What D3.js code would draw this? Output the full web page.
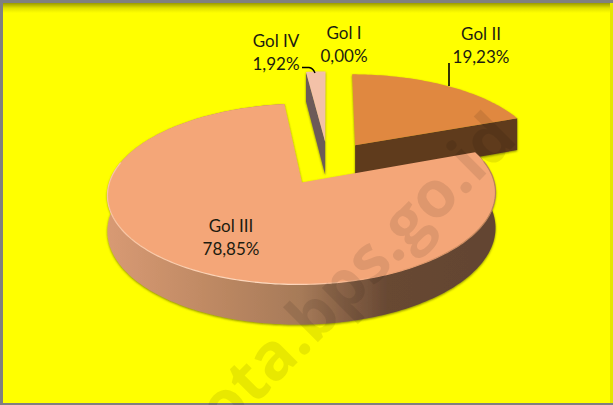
<!DOCTYPE html>
<html lang="en">
<head>
<meta charset="utf-8">
<title>Gol pie</title>
<script src="https://d3js.org/d3.v7.min.js"></script>
<style>
  html, body { margin: 0; padding: 0; background: #fff; }
  svg { display: block; }
  .labels { font-family: Lato, "Open Sans", sans-serif; font-size: 17px; fill: #1c1c10; text-anchor: middle; }
</style>
</head>
<body>
<script>
// data, order follows the pie clockwise from 12 o'clock
const categories = ["Gol I", "Gol II", "Gol III", "Gol IV"];
const shares = [0.00, 19.23, 78.85, 1.92];
const shareLabels = ["0,00%", "19,23%", "78,85%", "1,92%"];

const w = 613;
const h = 405;

// colors
const topColor = d3.scaleOrdinal(categories, ["#f0b080", "#e0883f", "#f4a678", "#f3c1a8"]);
const wallColor = d3.scaleOrdinal(categories, ["#6b4a30", "#5e3a1e", "#7a5038", "#6c5a58"]);

// label positions (center x, baseline of the name line)
const labelPos = { "Gol I": [344, 39], "Gol II": [481, 40], "Gol III": [231, 232], "Gol IV": [276, 47] };

// simple perspective for the tilted disc, fitted on the picture
const ox = 328, oy = 163, S = 187, T = 84, k = 0.125, depth = 34, explode = 0.262;

const svg = d3.select("body").append("svg").attr("width", w).attr("height", h);
const defs = svg.append("defs");

const fade = defs.append("linearGradient").attr("id", "topFade").attr("x1", 0).attr("x2", 0).attr("y1", 0).attr("y2", 1);
fade.append("stop").attr("offset", "0%").attr("stop-color", "#9a9a00");
fade.append("stop").attr("offset", "50%").attr("stop-color", "#e0e000");
fade.append("stop").attr("offset", "100%").attr("stop-color", "#ffff00");

const wallGrad = defs.append("linearGradient").attr("id", "wallGrad")
  .attr("gradientUnits", "userSpaceOnUse").attr("x1", 106).attr("x2", 497).attr("y1", 0).attr("y2", 0);
[["0%", "#d89a74"], ["25%", "#c08a64"], ["50%", "#a67a58"], ["72%", "#674833"], ["100%", "#634432"]]
  .forEach(s => wallGrad.append("stop").attr("offset", s[0]).attr("stop-color", s[1]));

const rimGrad = defs.append("linearGradient").attr("id", "rimGrad")
  .attr("gradientUnits", "userSpaceOnUse").attr("x1", 106).attr("x2", 497).attr("y1", 0).attr("y2", 0);
[["0%", "#f8c4a2"], ["45%", "#ffdcc4"], ["70%", "#f4a678"], ["100%", "#b88058"]]
  .forEach(s => rimGrad.append("stop").attr("offset", s[0]).attr("stop-color", s[1]));

const shadow = defs.append("filter").attr("id", "shadow")
  .attr("x", "-5%").attr("y", "-5%").attr("width", "110%").attr("height", "115%");
shadow.append("feDropShadow").attr("dx", 0).attr("dy", 1).attr("stdDeviation", 1.2)
  .attr("flood-color", "#5e5e00").attr("flood-opacity", 0.75);

// frame
svg.append("rect").attr("width", w).attr("height", h).attr("fill", "#808080");
svg.append("rect").attr("x", 3).attr("y", 3).attr("width", w - 3).attr("height", h - 5).attr("fill", "#ffff00");
svg.append("rect").attr("x", 3).attr("y", 3).attr("width", w - 3).attr("height", 10).attr("fill", "url(#topFade)");
svg.append("rect").attr("x", 610).attr("y", 3).attr("width", 3).attr("height", h - 5).attr("fill", "#e6e600");

const pie = d3.pie().value(d => d).sort(null);
const arcs = pie(shares).map((d, i) => ({ ...d, name: categories[i], share: shareLabels[i] }));

// world point on the disc -> screen, z = 1 is the bottom of the wall
function project(x, y, z) {
  const den = 1 + k * y;
  return [ox + S * x / den, oy + (-T * y + z * depth) / den];
}

function slicePoints(d) {
  const mid = (d.startAngle + d.endAngle) / 2;
  const dx = explode * Math.sin(mid), dy = explode * Math.cos(mid);
  const apex = [dx, dy];
  const steps = Math.max(2, Math.ceil((d.endAngle - d.startAngle) / 0.02));
  const rim = d3.range(steps + 1).map(i => {
    const a = d.startAngle + (d.endAngle - d.startAngle) * i / steps;
    return [dx + Math.sin(a), dy + Math.cos(a)];
  });
  return { apex, rim };
}

const line = d3.line();
const closed = d3.line().curve(d3.curveLinearClosed);

function sliceParts(name) {
  const d = arcs.find(a => a.name === name);
  return slicePoints(d);
}

const pieGroup = svg.append("g").attr("filter", "url(#shadow)");

// back to front: Gol IV, Gol II, Gol III
// Gol IV, the cut wall facing the viewer
{
  const { apex, rim } = sliceParts("Gol IV");
  const p = rim[0];
  pieGroup.append("path")
    .attr("fill", wallColor("Gol IV"))
    .attr("d", closed([project(p[0], p[1], 0), project(apex[0], apex[1], 0), project(apex[0], apex[1], 1), project(p[0], p[1], 1)]));
  pieGroup.append("path")
    .attr("fill", topColor("Gol IV"))
    .attr("d", closed([project(apex[0], apex[1], 0), ...rim.map(q => project(q[0], q[1], 0))]));
}

// Gol II, cut wall on its lower side
{
  const { apex, rim } = sliceParts("Gol II");
  const p = rim[rim.length - 1];
  pieGroup.append("path")
    .attr("fill", wallColor("Gol II"))
    .attr("d", closed([project(apex[0], apex[1], 0), project(p[0], p[1], 0), project(p[0], p[1], 1), project(apex[0], apex[1], 1)]));
  pieGroup.append("path")
    .attr("fill", topColor("Gol II"))
    .attr("d", closed([project(apex[0], apex[1], 0), ...rim.map(q => project(q[0], q[1], 0))]));
}

// Gol III, big slice with its round wall
{
  const { apex, rim } = sliceParts("Gol III");
  const top = rim.map(q => project(q[0], q[1], 0));
  const bottom = rim.map(q => project(q[0], q[1], 1)).reverse();
  pieGroup.append("path")
    .attr("fill", "url(#wallGrad)")
    .attr("d", closed([...top, ...bottom]));
  pieGroup.append("path")
    .attr("fill", topColor("Gol III"))
    .attr("d", closed([project(apex[0], apex[1], 0), ...top]));
  const front = rim.filter(q => q[1] < 0.02).map(q => project(q[0], q[1], 0));
  svg.append("path")
    .attr("fill", "none")
    .attr("stroke", "url(#rimGrad)")
    .attr("stroke-width", 1.2)
    .attr("d", line(front));
}

// leader lines
svg.append("path").attr("fill", "none").attr("stroke", "#000").attr("stroke-width", 1.6)
  .attr("d", "M449,63V86");
svg.append("path").attr("fill", "none").attr("stroke", "#000").attr("stroke-width", 1.4)
  .attr("d", "M302,67.5H309Q313,68 315,73");

// labels
arcs.forEach(d => {
  const pos = labelPos[d.name];
  const g = svg.append("text").attr("class", "labels").attr("x", pos[0]).attr("y", pos[1]);
  g.append("tspan").attr("x", pos[0]).text(d.name);
  g.append("tspan").attr("x", pos[0]).attr("dy", 22.5).text(d.share);
});

// watermark
svg.append("text")
  .attr("transform", "translate(225,435) rotate(-45)")
  .attr("font-family", "'Open Sans', sans-serif")
  .attr("font-weight", 700)
  .attr("font-size", 65)
  .attr("fill", "#000")
  .attr("fill-opacity", 0.09)
  .text("ota.bps.go.id");
</script>
</body>
</html>
